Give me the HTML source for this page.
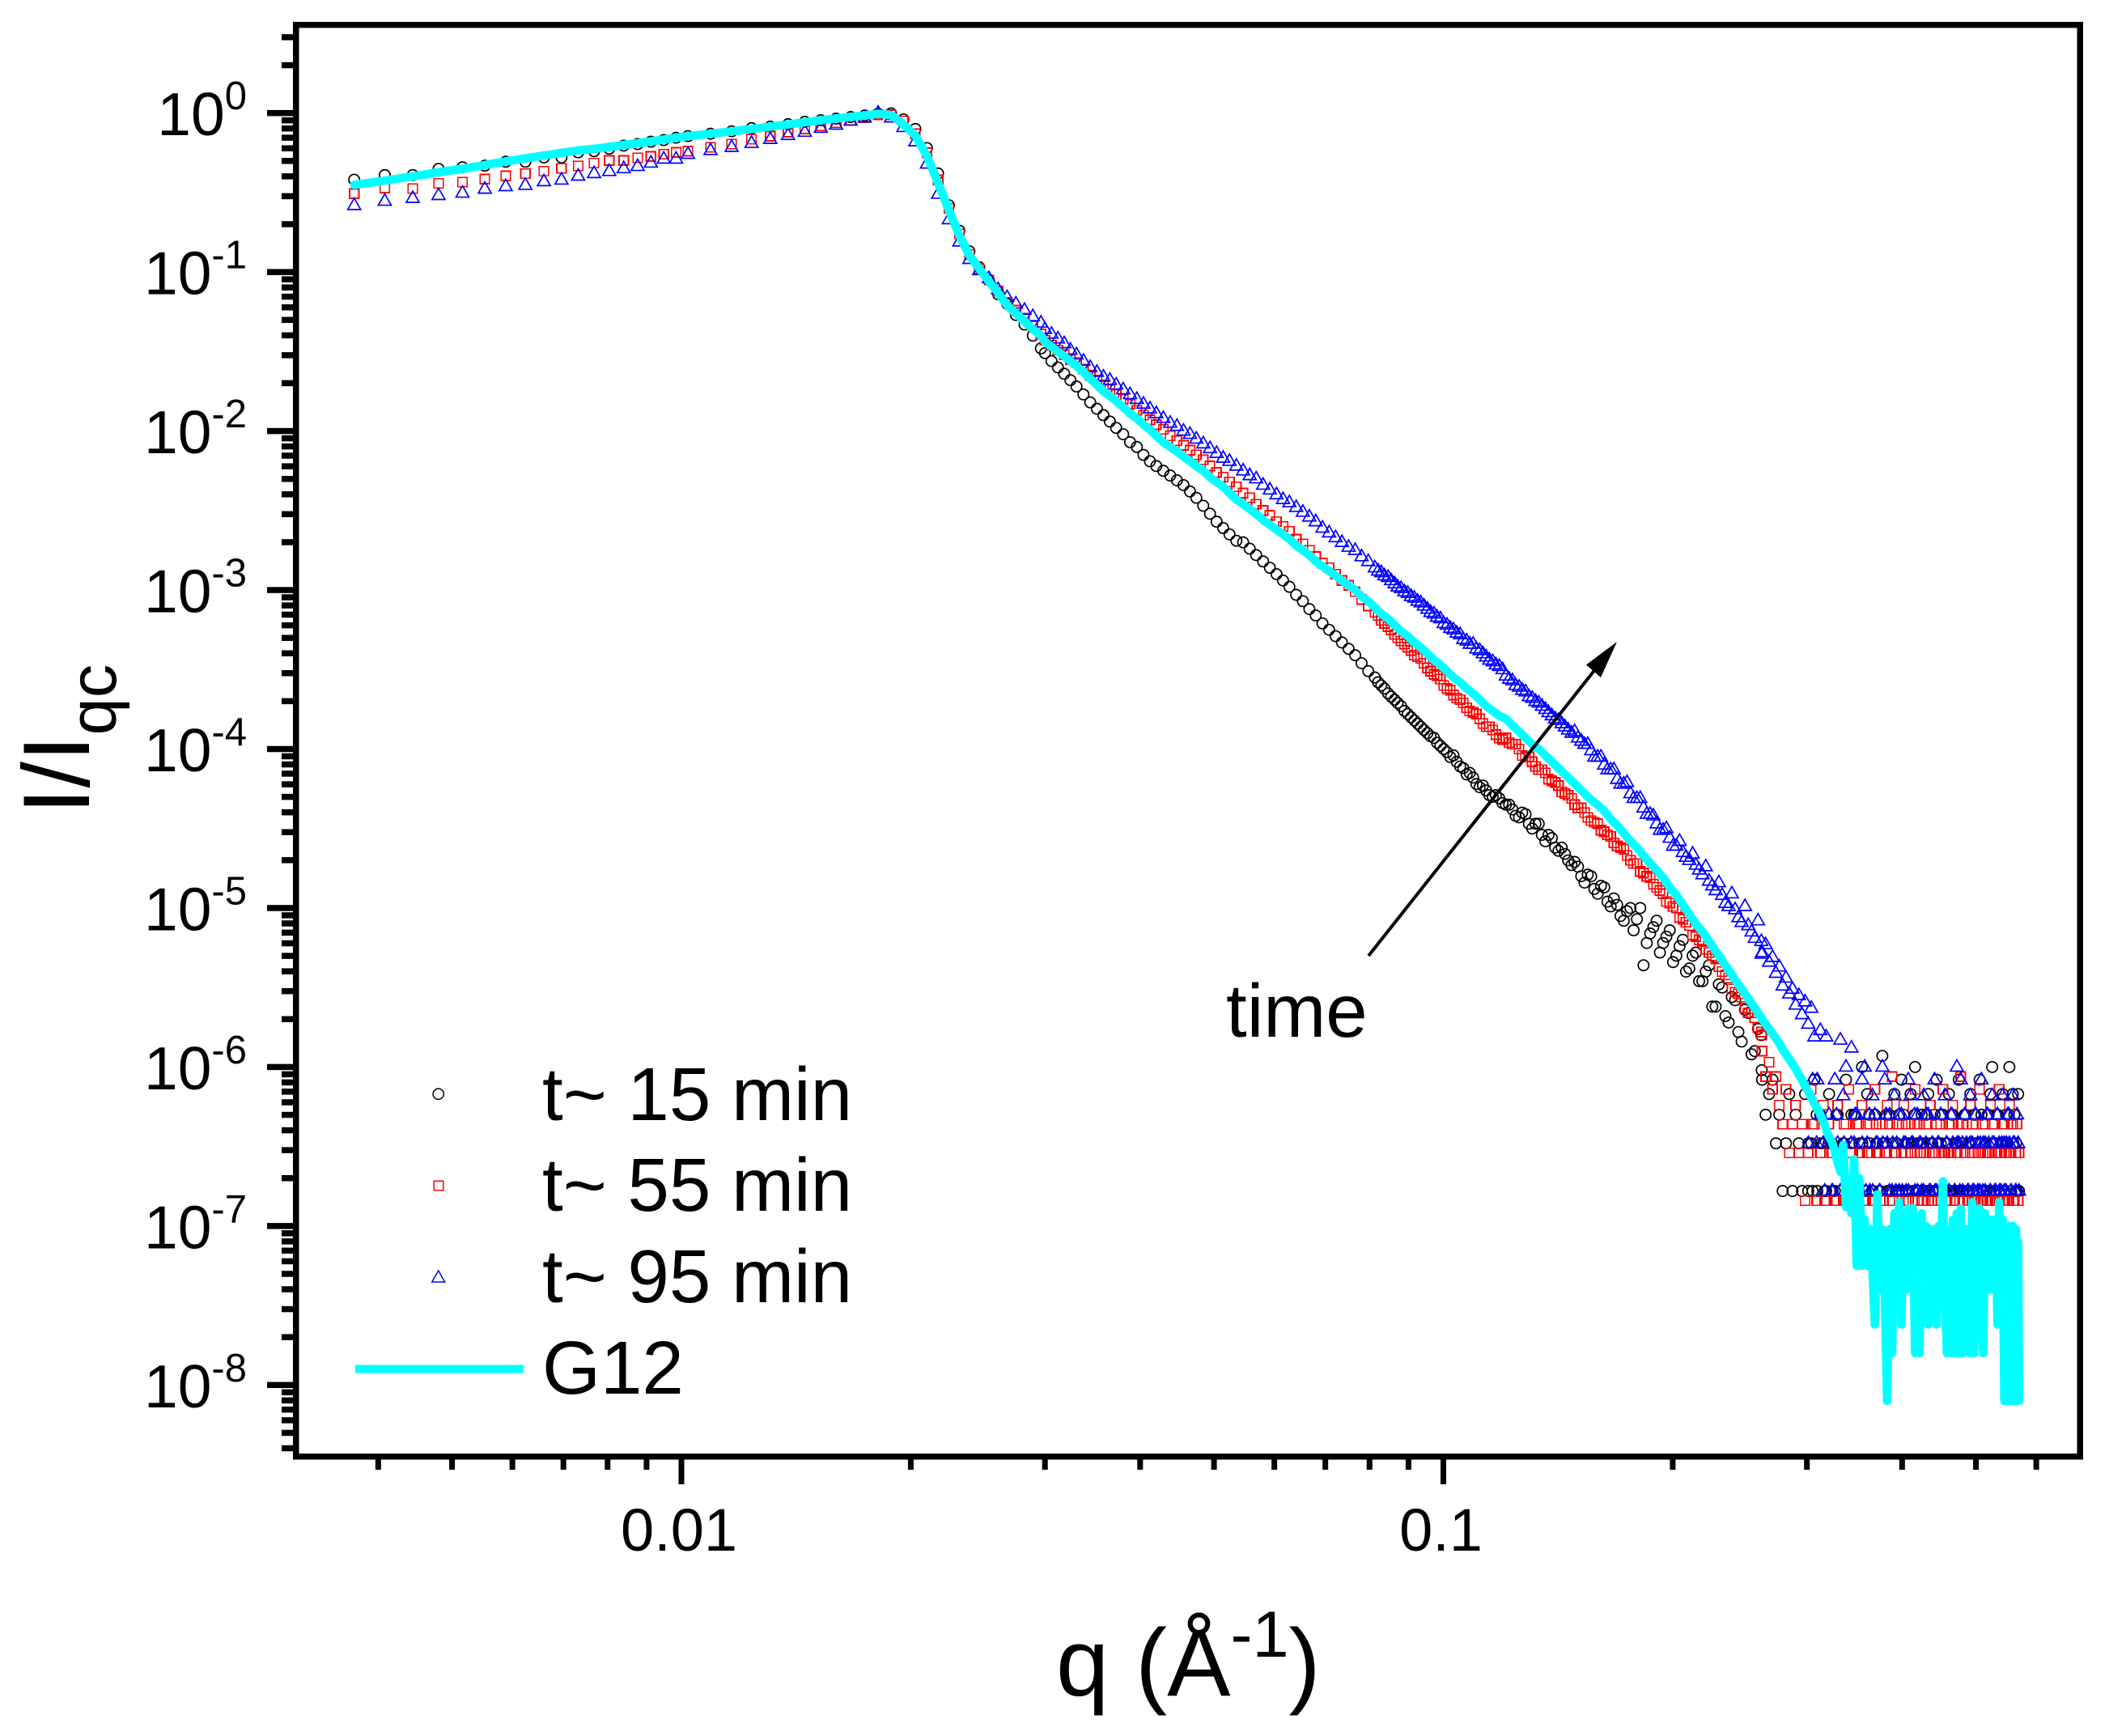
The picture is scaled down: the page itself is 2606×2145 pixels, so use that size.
<!DOCTYPE html>
<html lang="en">
<head>
<meta charset="utf-8">
<title>Normalised scattering intensity versus q</title>
<style>
html,body{margin:0;padding:0;background:#fff;width:2606px;height:2145px;overflow:hidden}
svg{display:block}
text{font-family:"Liberation Sans",Arial,sans-serif;fill:#000}
</style>
</head>
<body>
<svg id="chart" xmlns="http://www.w3.org/2000/svg" width="2606" height="2145" viewBox="0 0 2606 2145">
<rect x="0" y="0" width="2606" height="2145" fill="#fff"/>
<g id="marks"></g>
<g id="axes"></g>
<rect x="365.5" y="30.7" width="2204.5" height="1769" fill="none" stroke="#000" stroke-width="7.5" shape-rendering="crispEdges"/>

<text x="1305" y="2095" font-size="117.5">q (Å<tspan dy="-48" font-size="81">-1</tspan><tspan dy="48">)</tspan></text>
<text transform="translate(110,1006) rotate(-90)" font-size="117">I/I<tspan dy="33" font-size="83">qc</tspan></text>

<g>
<line x1="1691" y1="1181" x2="1972" y2="826" stroke="#000" stroke-width="4"/>
<polygon points="1998,793 1960,821.4 1978,837" fill="#000"/>
<text x="1515" y="1281" font-size="92.5">time</text>
</g>

<g>
<circle cx="541.7" cy="1351.7" r="6.6" fill="none" stroke="#000" stroke-width="1.5"/>
<text x="670" y="1384" font-size="92.5">t~ 15 min</text>
<rect x="536" y="1459" width="11.5" height="11.5" fill="none" stroke="#f00" stroke-width="1.5" shape-rendering="crispEdges"/>
<text x="670" y="1496" font-size="92.5">t~ 55 min</text>
<polygon points="541.7,1570 533.7,1584 549.7,1584" fill="none" stroke="#00f" stroke-width="1.5"/>
<text x="670" y="1609" font-size="92.5">t~ 95 min</text>
<rect x="439" y="1686.5" width="208" height="10" fill="#0ff"/>
<text x="670" y="1722" font-size="92.5">G12</text>
</g>
</svg>

<script>
// Axis tick values
const xMajorTicks = [0.01, 0.1];
const xMajorLabels = ["0.01", "0.1"];
const xMinorTicks = [0.004,0.005,0.006,0.007,0.008,0.009,0.02,0.03,0.04,0.05,0.06,0.07,0.08,0.09,0.2,0.3,0.4,0.5,0.6];
const yDecades = [0,-1,-2,-3,-4,-5,-6,-7,-8];
const yMinorMultipliers = [2,3,4,5,6,7,8,9];

// q values (1/angstrom): low-q, mid-q and high-q parts shared by all series
const qLow = [
.00372,.00408,.00444,.0048,.00516,.00552,.00588,.00624,.0066,.00696,
.00732,.00768,.00804,.0084,.00876,.00912,.00948,.00984,.0102,.01092,
.01164,.01236,.01308,.0138,.01452,.01524,.01596,.01668,.0174,.01812,
.01884,.01956,.02028,.021,.02172,.02244,.02316,.02388,.0246,.02532,
.02604,.02676,.02748,.0282,.02892,.02964];
const qMid = [
.0300,.0306,.0312,.0318,.0324,.0330,.0337,.0344,.0351,.0358,
.0365,.0372,.0380,.0388,.0396,.0404,.0412,.0420,.0429,.0438,
.0447,.0456,.0465,.0474,.0484,.0494,.0504,.0514,.0524,.0535,
.0546,.0557,.0568,.0580,.0592,.0604,.0616,.0628,.0641,.0654,
.0667,.0680,.0694,.0708,.0722,.0736,.0751,.0766,.0781,.0797,
.0813,.0829,.0846,.0863,.0880,.0898,.0916,.0934,.0953,.0972,
.0991,.1011,.1031,.1052,.1073,.1094,.1116,.1138,.1161,.1184,
.1208,.1232,.1257,.1282,.1308,.1334,.1361,.1388,.1416,.1444,
.1473,.1502,.1532,.1563,.1594,.1626,.1658,.1691,.1725,.1760,
.1795,.1831,.1868,.1905,.1943,.1982,.2022,.2062,.2103,.2145,
.2188,.2232,.2277,.2322,.2368,.2415,.2463,.2513,.2563,.2614];
const qHigh = [
.2620,.2648,.2676,.2704,.2732,.2760,.2788,.2816,.2844,.2872,
.2900,.2928,.2956,.2984,.3012,.3040,.3068,.3096,.3124,.3152,
.3180,.3208,.3236,.3264,.3292,.3320,.3348,.3376,.3404,.3432,
.3460,.3488,.3516,.3544,.3572,.3600,.3628,.3656,.3684,.3712,
.3740,.3768,.3796,.3824,.3852,.3880,.3908,.3936,.3964,.3992,
.4020,.4048,.4076,.4104,.4132,.4160,.4188,.4216,.4244,.4272,
.4300,.4328,.4356,.4384,.4412,.4440,.4468,.4496,.4524,.4552,
.4580,.4608,.4636,.4664,.4692,.4720,.4748,.4776,.4804,.4832,
.4860,.4888,.4916,.4944,.4972,.5000,.5028,.5056,.5084,.5112,
.5140,.5168,.5196,.5224,.5252,.5280,.5308,.5336,.5364,.5392,
.5420,.5448,.5476,.5504,.5532,.5560,.5588,.5616,.5644,.5660,
.5680,.5695];
// Extra measured q positions where the marker series are denser
const qDense = [
.0821,.0837,.0854,.0871,.0889,.0907,.0925,.0943,.0962,.0981,
.1001,.1021,.1041,.1062,.1083,.1105,.1127,.1149,.1172,.1196,
.1220,.1244,.1269,.1295,.1321,.1347,.1374,.1402,.1430,.1458,
.1487,.1517,.1547,.1578,.1610,.1642,.1674,.1708,.1742,.1777,
.1813,.1849,.1886,.1924,.1962,.2002,.2042,.2082,.2124,.2166,
.2210,.2254,.2299,.2345,.2391,.2439,.2488,.2538,.2588,.2617];
const qFloor = [
.3014,.3052,.3090,.3128,.3166,.3204,.3242,.3280,.3318,.3356,
.3394,.3430,.3470,.3508,.3546,.3584,.3622,.3660,.3698,.3736,
.3774,.3812,.3850,.3888,.3926,.3964,.4002,.4040,.4078,.4116,
.4154,.4192,.4230,.4268,.4306,.4344,.4382,.4420,.4458,.4496,
.4534,.4572,.4610,.4648,.4686,.4724,.4762,.4800,.4838,.4876,
.4914,.4952,.4990,.5028,.5066,.5104,.5142,.5180,.5218,.5256,
.5294,.5332,.5370,.5408,.5446,.5484,.5522,.5560,.5598,.5636];

// log10(I/Iqc), t ~ 15 min
const t15Low = [
-.419,-.39,-.39,-.351,-.341,-.331,-.306,-.306,-.279,-.279,
-.247,-.24,-.224,-.205,-.195,-.18,-.17,-.155,-.145,-.13,
-.115,-.095,-.085,-.07,-.055,-.045,-.035,-.025,-.015,-.005,
-.002,-.04,-.10,-.22,-.38,-.58,-.74,-.87,-.97,-1.05,
-1.14,-1.20,-1.27,-1.33,-1.40,-1.48];
const t15Mid = [
-1.51,-1.56,-1.60,-1.64,-1.68,-1.72,-1.77,-1.82,-1.86,-1.90,
-1.94,-1.98,-2.02,-2.07,-2.10,-2.15,-2.19,-2.22,-2.25,-2.28,
-2.31,-2.34,-2.38,-2.42,-2.47,-2.52,-2.57,-2.61,-2.65,-2.69,
-2.70,-2.74,-2.78,-2.82,-2.86,-2.90,-2.94,-2.98,-3.03,-3.07,
-3.12,-3.16,-3.21,-3.25,-3.29,-3.33,-3.37,-3.41,-3.46,-3.51,
-3.55,-3.60,-3.65,-3.69,-3.73,-3.78,-3.82,-3.86,-3.90,-3.93,
-3.98,-4.02,-4.04,-4.11,-4.16,-4.18,-4.24,-4.26,-4.30,-4.31,
-4.35,-4.38,-4.43,-4.41,-4.50,-4.47,-4.58,-4.56,-4.64,-4.66,
-4.73,-4.74,-4.84,-4.80,-4.91,-4.87,-4.99,-4.98,-5.08,-5.00,
-5.07,-5.36,-5.16,-5.08,-5.22,-5.14,-5.30,-5.20,-5.38,-5.28,
-5.46,-5.36,-5.62,-5.50,-5.72,-5.58,-5.84,-5.66,-5.90,-5.80];
const t15High = [
-6.08,-6.30,-6.17,-6.08,-6.48,-6.30,-6.78,-6.48,-6.17,-6.78,
-6.30,-6.48,-6.78,-6.17,-6.78,-6.48,-6.08,-6.78,-6.30,-6.48,
-6.78,-6.17,-6.48,-6.78,-6.30,-6.78,-6.48,-6.08,-6.78,-6.30,
-6.30,-6.78,-6.48,-6.00,-6.78,-6.17,-6.48,-6.78,-6.30,-6.48,
-6.78,-5.93,-6.48,-6.78,-6.30,-6.78,-6.17,-6.48,-6.78,-6.08,
-6.30,-6.78,-6.48,-6.17,-6.78,-6.00,-6.48,-6.78,-6.30,-6.48,
-6.78,-6.17,-6.48,-6.78,-6.30,-6.08,-6.78,-6.48,-6.30,-6.78,
-6.48,-6.17,-6.78,-6.30,-6.48,-6.78,-6.08,-6.48,-6.78,-6.30,
-6.78,-6.48,-6.17,-6.78,-6.30,-6.48,-6.78,-6.08,-6.30,-6.78,
-6.48,-6.78,-6.30,-6.17,-6.00,-6.78,-6.48,-6.30,-6.78,-6.48,
-6.17,-6.78,-6.30,-6.48,-6.00,-6.78,-6.17,-6.30,-6.48,-6.78,
-6.17,-6.78];
const t15Dense = [
-3.58,-3.62,-3.67,-3.71,-3.76,-3.80,-3.84,-3.88,-3.92,-3.96,
-4.00,-4.05,-4.08,-4.12,-4.15,-4.22,-4.23,-4.29,-4.29,-4.34,
-4.35,-4.42,-4.40,-4.47,-4.47,-4.54,-4.54,-4.62,-4.62,-4.70,
-4.71,-4.80,-4.79,-4.88,-4.86,-4.96,-4.94,-5.05,-5.02,-5.14,
-5.00,-5.22,-5.12,-5.28,-5.18,-5.34,-5.24,-5.40,-5.30,-5.46,
-5.40,-5.62,-5.48,-5.68,-5.56,-5.78,-5.64,-5.92,-5.76,-6.02];
const t15Floor = [
-6.48,-6.78,-6.30,-6.48,-6.78,-6.48,-6.78,-6.30,-6.78,-6.48,
-6.78,-6.48,-6.30,-6.78,-6.48,-6.78,-6.30,-6.78,-6.48,-6.78,
-6.48,-6.30,-6.78,-6.48,-6.78,-6.30,-6.78,-6.48,-6.78,-6.48,
-6.30,-6.78,-6.48,-6.78,-6.30,-6.78,-6.48,-6.78,-6.48,-6.30,
-6.78,-6.48,-6.78,-6.30,-6.78,-6.48,-6.78,-6.48,-6.30,-6.78,
-6.48,-6.78,-6.30,-6.78,-6.48,-6.78,-6.48,-6.30,-6.78,-6.48,
-6.78,-6.30,-6.78,-6.48,-6.78,-6.48,-6.30,-6.78,-6.48,-6.78];

// log10(I/Iqc), t ~ 55 min
const t55Low = [
-.507,-.471,-.475,-.442,-.434,-.415,-.395,-.38,-.366,-.347,
-.333,-.314,-.298,-.298,-.282,-.273,-.259,-.247,-.24,-.215,
-.195,-.165,-.145,-.12,-.10,-.08,-.06,-.045,-.03,-.01,
-.01,-.05,-.13,-.25,-.42,-.60,-.76,-.89,-.98,-1.05,
-1.12,-1.19,-1.24,-1.29,-1.34,-1.39];
const t55Mid = [
-1.43,-1.46,-1.49,-1.52,-1.55,-1.57,-1.61,-1.65,-1.68,-1.71,
-1.74,-1.77,-1.80,-1.83,-1.87,-1.90,-1.93,-1.96,-1.99,-2.03,
-2.06,-2.09,-2.12,-2.15,-2.18,-2.22,-2.26,-2.29,-2.32,-2.35,
-2.39,-2.42,-2.46,-2.50,-2.53,-2.57,-2.60,-2.63,-2.68,-2.71,
-2.75,-2.79,-2.83,-2.86,-2.90,-2.94,-2.97,-3.01,-3.06,-3.10,
-3.14,-3.19,-3.23,-3.28,-3.32,-3.36,-3.41,-3.43,-3.49,-3.53,
-3.56,-3.62,-3.66,-3.69,-3.74,-3.77,-3.81,-3.86,-3.88,-3.93,
-3.93,-3.97,-4.00,-4.05,-4.08,-4.13,-4.15,-4.20,-4.23,-4.28,
-4.31,-4.37,-4.40,-4.45,-4.47,-4.52,-4.55,-4.61,-4.63,-4.70,
-4.72,-4.78,-4.81,-4.87,-4.91,-4.97,-5.00,-5.07,-5.11,-5.18,
-5.21,-5.28,-5.32,-5.40,-5.44,-5.53,-5.56,-5.66,-5.69,-5.78];
const t55High = [
-5.90,-6.06,-5.97,-6.14,-6.06,-6.24,-6.36,-6.14,-6.54,-6.36,
-6.24,-6.54,-6.36,-6.84,-6.54,-6.14,-6.36,-6.84,-6.54,-6.24,
-6.84,-6.36,-6.54,-6.84,-6.24,-6.54,-6.84,-6.36,-6.14,-6.54,
-6.84,-6.36,-6.54,-6.24,-6.84,-6.54,-6.36,-6.84,-6.14,-6.54,
-6.84,-6.36,-6.54,-6.24,-6.84,-6.06,-6.54,-6.36,-6.84,-6.54,
-6.24,-6.84,-6.36,-6.54,-6.84,-6.14,-6.54,-6.36,-6.84,-6.54,
-6.36,-6.84,-6.24,-6.54,-6.84,-6.36,-6.54,-6.84,-6.14,-6.54,
-6.84,-6.36,-6.54,-6.24,-6.84,-6.54,-6.36,-6.06,-6.84,-6.54,
-6.36,-6.84,-6.24,-6.54,-6.84,-6.36,-6.54,-6.14,-6.84,-6.54,
-6.36,-6.84,-6.54,-6.24,-6.84,-6.36,-6.54,-6.84,-6.14,-6.54,
-6.84,-6.36,-6.54,-6.84,-6.24,-6.54,-6.36,-6.84,-6.54,-6.36,
-6.84,-6.54];
const t55Dense = [
-3.16,-3.21,-3.25,-3.30,-3.34,-3.38,-3.42,-3.46,-3.51,-3.54,
-3.60,-3.63,-3.68,-3.71,-3.76,-3.78,-3.84,-3.86,-3.91,-3.94,
-3.96,-3.97,-4.04,-4.05,-4.11,-4.13,-4.19,-4.21,-4.27,-4.29,
-4.35,-4.37,-4.43,-4.46,-4.51,-4.54,-4.59,-4.62,-4.67,-4.72,
-4.77,-4.80,-4.85,-4.89,-4.96,-4.99,-5.06,-5.09,-5.17,-5.20,
-5.26,-5.30,-5.37,-5.42,-5.51,-5.54,-5.63,-5.66,-5.75,-5.80];
const t55Floor = [
-6.54,-6.36,-6.84,-6.54,-6.84,-6.36,-6.54,-6.84,-6.54,-6.36,
-6.84,-6.54,-6.84,-6.36,-6.54,-6.84,-6.54,-6.84,-6.36,-6.54,
-6.84,-6.54,-6.36,-6.84,-6.54,-6.84,-6.36,-6.54,-6.84,-6.54,
-6.36,-6.84,-6.54,-6.84,-6.36,-6.54,-6.84,-6.54,-6.84,-6.36,
-6.54,-6.84,-6.54,-6.36,-6.84,-6.54,-6.84,-6.36,-6.54,-6.84,
-6.54,-6.36,-6.84,-6.54,-6.84,-6.36,-6.54,-6.84,-6.54,-6.36,
-6.84,-6.54,-6.84,-6.36,-6.54,-6.84,-6.54,-6.36,-6.84,-6.54];

// log10(I/Iqc), t ~ 95 min
const t95Low = [
-.571,-.544,-.526,-.508,-.493,-.468,-.452,-.444,-.421,-.411,
-.386,-.37,-.357,-.339,-.325,-.304,-.279,-.279,-.249,-.225,
-.205,-.18,-.155,-.13,-.11,-.085,-.065,-.04,-.02,.01,
-.02,-.08,-.17,-.31,-.50,-.66,-.80,-.91,-.98,-1.03,
-1.10,-1.15,-1.19,-1.23,-1.27,-1.31];
const t95Mid = [
-1.35,-1.38,-1.41,-1.44,-1.48,-1.51,-1.55,-1.59,-1.62,-1.65,
-1.67,-1.70,-1.73,-1.76,-1.79,-1.82,-1.85,-1.88,-1.91,-1.94,
-1.96,-1.99,-2.01,-2.04,-2.07,-2.10,-2.13,-2.16,-2.18,-2.21,
-2.24,-2.27,-2.29,-2.33,-2.36,-2.39,-2.42,-2.44,-2.47,-2.50,
-2.53,-2.56,-2.60,-2.63,-2.66,-2.69,-2.72,-2.74,-2.78,-2.81,
-2.85,-2.88,-2.91,-2.95,-2.98,-3.01,-3.04,-3.07,-3.11,-3.14,
-3.17,-3.21,-3.24,-3.27,-3.31,-3.33,-3.37,-3.41,-3.44,-3.47,
-3.53,-3.56,-3.60,-3.63,-3.67,-3.70,-3.74,-3.78,-3.81,-3.85,
-3.89,-3.92,-3.96,-4.00,-4.04,-4.09,-4.12,-4.18,-4.21,-4.27,
-4.30,-4.36,-4.40,-4.46,-4.50,-4.55,-4.60,-4.64,-4.69,-4.72,
-4.78,-4.82,-4.88,-4.91,-4.98,-5.00,-5.08,-5.10,-5.18,-5.20];
const t95High = [
-5.27,-5.22,-5.33,-5.30,-5.40,-5.36,-5.48,-5.43,-5.53,-5.50,
-5.60,-5.54,-5.66,-5.58,-5.72,-5.62,-5.80,-6.07,-5.76,-6.47,
-5.80,-6.29,-6.77,-6.07,-6.47,-5.82,-6.17,-5.99,-6.77,-5.87,
-6.47,-6.29,-6.77,-6.07,-5.99,-6.47,-6.77,-6.17,-6.29,-6.47,
-6.77,-5.99,-6.07,-6.47,-6.29,-6.77,-6.17,-6.47,-6.77,-6.29,
-6.47,-6.77,-6.07,-6.17,-6.47,-6.77,-6.29,-6.47,-6.77,-6.17,
-6.47,-6.29,-6.77,-6.47,-6.07,-6.77,-6.47,-6.29,-6.77,-6.17,
-6.47,-6.77,-6.29,-6.47,-6.77,-5.99,-6.47,-6.07,-6.77,-6.29,
-6.47,-6.77,-6.17,-6.47,-6.77,-6.29,-6.47,-6.77,-6.07,-6.47,
-6.77,-6.29,-6.47,-6.77,-6.17,-6.47,-6.77,-6.29,-6.47,-6.77,
-6.17,-6.47,-6.77,-6.29,-6.47,-6.77,-6.17,-6.47,-6.77,-6.29,
-6.47,-6.77];
const t95Dense = [
-2.87,-2.90,-2.93,-2.97,-3.00,-3.03,-3.06,-3.09,-3.13,-3.16,
-3.20,-3.23,-3.26,-3.30,-3.33,-3.36,-3.39,-3.43,-3.46,-3.49,
-3.55,-3.59,-3.62,-3.66,-3.69,-3.72,-3.76,-3.80,-3.83,-3.87,
-3.88,-3.94,-3.96,-4.04,-4.04,-4.12,-4.12,-4.21,-4.20,-4.30,
-4.30,-4.40,-4.41,-4.50,-4.49,-4.60,-4.57,-4.67,-4.65,-4.75,
-4.73,-4.85,-4.83,-4.96,-4.90,-5.05,-4.98,-5.14,-5.07,-5.28];
const t95Floor = [
-6.47,-6.07,-6.47,-6.29,-6.77,-6.47,-6.77,-6.29,-6.77,-6.47,
-6.77,-6.47,-6.29,-6.77,-6.47,-6.77,-6.29,-6.77,-6.47,-6.77,
-6.47,-6.29,-6.77,-6.47,-6.77,-6.29,-6.77,-6.47,-6.77,-6.47,
-6.29,-6.77,-6.47,-6.77,-6.29,-6.77,-6.47,-6.77,-6.47,-6.29,
-6.77,-6.47,-6.77,-6.29,-6.77,-6.47,-6.77,-6.47,-6.29,-6.77,
-6.47,-6.77,-6.29,-6.77,-6.47,-6.77,-6.47,-6.29,-6.77,-6.47,
-6.77,-6.29,-6.77,-6.47,-6.77,-6.47,-6.29,-6.77,-6.47,-6.77];

// log10(I/Iqc), G12 line
const g12Low = [
-.452,-.425,-.398,-.373,-.35,-.327,-.304,-.285,-.267,-.25,
-.235,-.225,-.213,-.2,-.19,-.178,-.166,-.155,-.145,-.13,
-.115,-.10,-.085,-.072,-.058,-.045,-.034,-.024,-.015,-.005,
-.012,-.07,-.142,-.27,-.44,-.61,-.77,-.895,-.98,-1.06,
-1.13,-1.21,-1.26,-1.31,-1.36,-1.40];
const g12Mid = [
-1.44,-1.47,-1.50,-1.53,-1.56,-1.59,-1.63,-1.67,-1.71,-1.75,
-1.78,-1.81,-1.85,-1.89,-1.92,-1.96,-1.99,-2.03,-2.07,-2.10,
-2.13,-2.16,-2.19,-2.22,-2.25,-2.29,-2.32,-2.35,-2.39,-2.43,
-2.46,-2.49,-2.52,-2.56,-2.59,-2.62,-2.65,-2.68,-2.72,-2.75,
-2.78,-2.82,-2.85,-2.88,-2.91,-2.94,-2.97,-3.00,-3.04,-3.07,
-3.11,-3.15,-3.18,-3.22,-3.26,-3.29,-3.33,-3.36,-3.40,-3.44,
-3.47,-3.51,-3.55,-3.58,-3.62,-3.65,-3.69,-3.73,-3.76,-3.79,
-3.81,-3.85,-3.89,-3.93,-3.97,-4.00,-4.04,-4.08,-4.12,-4.16,
-4.20,-4.24,-4.28,-4.32,-4.35,-4.39,-4.44,-4.48,-4.53,-4.58,
-4.62,-4.67,-4.72,-4.76,-4.81,-4.87,-4.92,-4.98,-5.04,-5.10,
-5.15,-5.21,-5.27,-5.33,-5.39,-5.45,-5.51,-5.57,-5.63,-5.69];
const g12High = [
-5.70,-5.73,-5.76,-5.79,-5.82,-5.85,-5.89,-5.92,-5.95,-5.98,
-6.01,-6.05,-6.08,-6.12,-6.15,-6.19,-6.23,-6.26,-6.30,-6.34,
-6.39,-6.44,-6.47,-6.53,-6.60,-6.66,-6.49,-6.88,-6.72,-6.92,
-6.58,-7.25,-6.70,-7.25,-6.96,-7.25,-7.02,-7.25,-7.62,-6.80,
-7.40,-7.02,-7.40,-8.10,-7.02,-7.80,-6.92,-7.40,-6.85,-7.62,
-6.92,-7.40,-6.89,-7.32,-6.89,-7.80,-6.96,-7.80,-6.92,-7.40,
-7.00,-7.62,-7.02,-7.40,-7.02,-7.62,-7.00,-7.40,-6.72,-7.40,
-7.80,-7.02,-7.80,-6.96,-7.80,-6.92,-7.80,-6.89,-7.80,-7.40,
-7.02,-7.40,-7.80,-6.85,-7.80,-7.02,-7.40,-6.89,-7.40,-7.80,
-6.92,-7.40,-6.96,-7.40,-6.96,-7.40,-6.96,-7.62,-6.85,-7.62,
-6.96,-8.10,-7.00,-8.10,-7.00,-8.10,-7.00,-8.10,-7.02,-8.10,
-7.10,-8.10];

// Axis functions
const SVG_NS = 'http://www.w3.org/2000/svg';
function xScale(q) { return 842 + 941.5 * Math.log10(q / 0.01); }
function yScale(logI) { return 139.7 - 196.45 * logI; }
const qLine = qLow.concat(qMid, qHigh);
const qMarkers = qLow.concat(qMid, qHigh, qDense, qFloor);
const marksLayer = document.getElementById('marks');
const axesLayer = document.getElementById('axes');

function svgEl(tag, attrs) {
  const el = document.createElementNS(SVG_NS, tag);
  for (const k in attrs) el.setAttribute(k, attrs[k]);
  return el;
}

// t ~ 15 min circles
const t15Group = svgEl('g', {fill: 'none', stroke: '#000', 'stroke-width': 1.7});


t15Low.concat(t15Mid, t15High, t15Dense, t15Floor).forEach(function (v, i) {
  const el = svgEl('circle', {cx: xScale(qMarkers[i]), cy: yScale(v), r: 6.6});
  
  
  t15Group.appendChild(el);
});
marksLayer.appendChild(t15Group);

// t ~ 55 min squares
const t55Group = svgEl('g', {fill: 'none', stroke: '#f00', 'stroke-width': 1.7, 'shape-rendering': 'crispEdges'});


t55Low.concat(t55Mid, t55High, t55Dense, t55Floor).forEach(function (v, i) {
  const el = svgEl('rect', {x: xScale(qMarkers[i]) - 5.75, y: yScale(v) - 5.75, width: 11.5, height: 11.5});
  
  
  t55Group.appendChild(el);
});
marksLayer.appendChild(t55Group);

// t ~ 95 min triangles
const t95Group = svgEl('g', {fill: 'none', stroke: '#00f', 'stroke-width': 1.7});


t95Low.concat(t95Mid, t95High, t95Dense, t95Floor).forEach(function (v, i) {
  const cx = xScale(qMarkers[i]);
  const cy = yScale(v);
  const el = svgEl('polygon', {points: cx + ',' + (cy - 7) + ' ' + (cx - 8) + ',' + (cy + 7) + ' ' + (cx + 8) + ',' + (cy + 7)});
  
  
  t95Group.appendChild(el);
});
marksLayer.appendChild(t95Group);

// G12 line
const g12Values = g12Low.concat(g12Mid, g12High);
const g12Line = svgEl('polyline', {
  points: g12Values.map(function (v, i) { return xScale(qLine[i]).toFixed(1) + ',' + yScale(v).toFixed(1); }).join(' '),
  fill: 'none', stroke: '#0ff', 'stroke-width': 10.5, 'stroke-linejoin': 'round', 'stroke-linecap': 'round'
});


marksLayer.appendChild(g12Line);

// X axis ticks and labels
xMajorTicks.forEach(function (q, i) {
  const tick = svgEl('rect', {x: xScale(q) - 3.5, y: 1800, width: 7, height: 34, fill: '#000'});
  
  
  axesLayer.appendChild(tick);
  const label = svgEl('text', {x: xScale(q) - 3, y: 1916, 'font-size': 74, 'text-anchor': 'middle'});
  label.textContent = xMajorLabels[i];
  
  
  axesLayer.appendChild(label);
});
xMinorTicks.forEach(function (q) {
  const tick = svgEl('rect', {x: xScale(q) - 3.5, y: 1800, width: 7, height: 16, fill: '#000'});
  
  
  axesLayer.appendChild(tick);
});

// Y axis ticks and labels
yDecades.forEach(function (d) {
  const y = yScale(d);
  const tick = svgEl('rect', {x: 330, y: y - 3.75, width: 35, height: 7.5, fill: '#000'});
  
  
  axesLayer.appendChild(tick);
  const label = svgEl('text', {x: 305, y: y + 27.5, 'font-size': 75, 'text-anchor': 'end'});
  label.appendChild(document.createTextNode('10'));
  const sup = svgEl('tspan', {dy: -32, 'font-size': 49});
  sup.textContent = String(d);
  label.appendChild(sup);
  
  
  axesLayer.appendChild(label);
});
const yTop = 30.7;
const yBottom = 1799.6;
[1].concat(yDecades).forEach(function (d, idx) {
  const base = idx === 0 ? 0 : d - 1;
  yMinorMultipliers.forEach(function (m) {
    const y = yScale(base + Math.log10(m));
    if (y <= yTop + 6 || y >= yBottom - 4) return;
    const tick = svgEl('rect', {x: 348, y: y - 3.75, width: 17, height: 7.5, fill: '#000'});
    
    
    axesLayer.appendChild(tick);
  });
});
</script>
</body>
</html>
